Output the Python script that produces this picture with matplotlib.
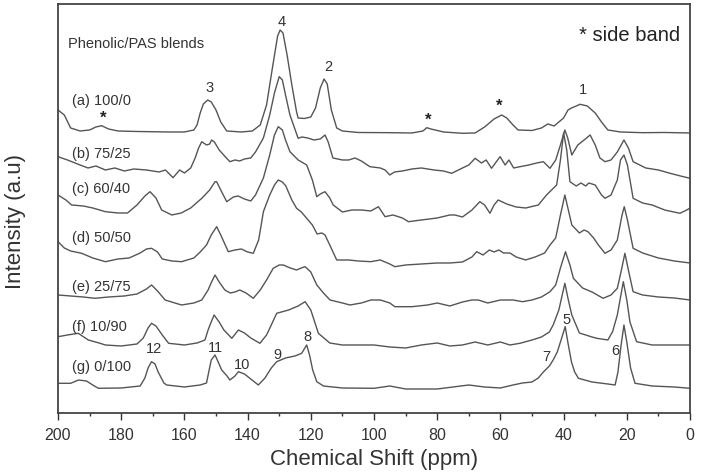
import matplotlib
matplotlib.use('Agg')
import matplotlib.pyplot as plt
from matplotlib.ticker import MultipleLocator

plt.rcParams['font.family'] = ['Liberation Sans', 'DejaVu Sans']

# Spektra: przesunięcie chemiczne [ppm] i intensywność [a.u.]
shift_a = [200, 198, 196, 193, 190, 188, 186.2, 184, 181, 175, 165, 160, 157, 156, 155, 154, 152.6, 151.5, 150,
           148.5, 146.6, 142, 138.5, 136, 134, 132, 130.5, 129.7, 128.8, 127.5, 126, 124.5, 124, 122, 120, 118.5,
           117, 115.8, 114.8, 113.5, 111.8, 110, 105, 95, 88, 84.5, 83.3, 82, 78, 72, 68, 65, 62, 59.6, 58, 56,
           54.4, 50, 47, 45, 43, 40, 38.6, 37.5, 36, 34.8, 32.5, 30, 28, 26, 22, 15, 8, 0]
int_a = [303, 298, 285, 282, 283, 286, 287.3, 284, 282, 281.5, 281, 281, 283, 288, 300, 309, 313, 311, 303,
         291, 282, 281, 282, 288, 308, 348, 377, 383, 380, 358, 328, 301, 295, 294.5, 296, 305,
         325, 334, 329, 303, 285, 282, 280.5, 280.3, 280, 282, 285.3, 284, 281, 279.7, 280, 286, 294, 298, 295, 288,
         283, 282.5, 285, 289, 287, 295, 303, 305, 307, 308.7, 307, 300, 291, 283, 281, 280.3, 280.5, 280]

shift_b = [200, 197, 193, 190.5, 188, 185, 182, 179, 176, 172, 168, 166, 163.6, 161.5, 160, 158, 156.6, 155.5,
           154.5, 153, 152, 151.4, 150.5, 149, 147, 145.6, 144, 142.5, 141, 139, 137.5, 135, 133, 131.5, 130, 129,
           128, 126.6, 124, 122.8, 121, 119, 117, 115.5, 114.5, 113, 110, 108, 106, 104, 101.3, 98, 96.5, 95, 93.5,
           91, 88, 85, 81, 78, 75.4, 72, 70, 68, 66, 64.5, 62.8, 60.1, 58.5, 57.3, 55.8, 53.8, 51, 48.5, 46.4, 44.3,
           42.5, 41, 39.6, 38.7, 37.4, 35.5, 33.5, 31.6, 30, 28.5, 26.9, 25, 23, 20.9, 19.5, 18, 14, 10, 6.3, 3, 0]
int_b = [256.3, 253, 248, 245, 247, 243, 245, 242, 244, 243, 241, 243, 235.3, 243, 240, 245, 255, 265,
         271.3, 268, 269, 273, 271, 263, 256, 251.3, 253, 252, 254, 255, 261, 275, 298, 320, 336.3, 333,
         318, 298, 274.7, 276, 275, 273, 274, 278, 271, 255, 253, 253, 255, 252, 246.3, 245, 243, 238, 241,
         242, 244, 245, 243, 242, 239.7, 245, 248, 254.7, 250, 253, 244.7, 256.3, 248, 253, 245, 246.3, 248, 250, 251.3, 244.7,
         253, 268, 283, 275, 258, 268, 273, 278, 268, 255, 251.3, 253, 261, 273, 265, 251.3, 245, 243, 239.7, 237, 234.7]

shift_c = [200, 197.5, 195.7, 192, 189, 185, 181, 178, 175, 172.5, 170.9, 169, 167.2, 164, 161, 158, 154.5, 152,
           150.3, 149.8, 148.5, 146.6, 144.5, 143, 141, 139, 137.5, 135, 133, 131.5, 130.3, 129, 128, 126.6, 124,
           121.3, 119.5, 118.1, 117, 115.5, 114, 112.9, 110, 107, 104, 101, 98.6, 96.5, 94, 91, 89.1, 85, 80, 76,
           74.4, 72, 69, 66.5, 65, 63.3, 62, 60.7, 58, 55, 52, 48, 45.4, 42.2, 41, 40, 39, 38, 36, 34.5, 33, 32, 30,
           28, 26.9, 25, 23, 22, 20.9, 19.8, 18, 15, 12, 8, 3.2, 1, 0]
int_c = [218, 213, 208, 207, 205, 201.3, 200, 200, 208, 217, 221.3, 215, 203, 198, 200, 205, 214.7, 223,
         231.3, 231.3, 223, 211.3, 216, 217, 214, 212, 218, 235, 258, 278, 286.3, 283, 273, 261.3, 253,
         248, 233, 216.3, 219, 221.3, 215, 208, 201, 203, 203, 202, 206.3, 196.3, 198, 195, 191.3, 193, 195, 198,
         198, 196, 203, 211.3, 208, 199.7, 208, 213, 209, 206, 205, 208, 218, 228, 253, 280, 263, 231.3, 227, 230, 227, 230, 228,
         218, 214.7, 218, 233, 253, 258, 248, 214.7, 210, 208, 203, 199.7, 203, 205]

shift_d = [200, 198, 196, 192.5, 189, 185, 181, 177.5, 174, 172, 170.4, 168.5, 167, 164, 160.9, 157, 155, 153,
           151.5, 149.8, 148.5, 146.1, 144, 142, 140, 138.2, 136.5, 135, 133, 131.5, 130.3, 129, 127.9, 126, 124.5,
           123, 121.3, 119.5, 118, 116.5, 115.5, 114, 111.8, 108, 105, 101, 98, 95, 93.4, 90, 85, 80, 76, 72, 69,
           67.5, 65.5, 63.5, 62, 60.5, 59, 57, 55, 52, 49, 46, 44.3, 42.5, 41, 39.6, 38.5, 37.4, 35, 33.5, 32.3,
           30.5, 29, 26.9, 25, 23, 21.5, 20.8, 19.8, 18, 15, 10, 5, 0]
int_d = [171.3, 165, 162, 159.7, 155, 151.3, 154, 155, 160, 164, 164.7, 161, 154, 152, 151.3, 155, 161, 168,
         178, 186.3, 178, 161.3, 163, 164, 161, 159.7, 173, 201.3, 218, 228, 233, 231, 227, 213, 204.7,
         201, 194.7, 188, 179, 180, 178, 168, 153, 153, 152, 151.3, 153, 149, 146.3, 148, 149, 150, 150, 151, 156,
         161.3, 158, 163, 161, 163, 160, 160, 156, 153, 156, 160, 168, 175, 198, 218, 203, 188, 180, 183, 181.3,
         175, 168, 159.7, 163, 173, 198, 206.3, 193, 164.7, 160, 155, 152, 150]

shift_e = [200, 196, 192, 188.3, 184, 179, 175, 172, 170.4, 168.5, 166.1, 163, 160.9, 157, 154.5, 152.5, 151.4,
           150.3, 149, 147.2, 145.5, 144, 142.5, 140.5, 138.2, 136, 134, 131.9, 130, 128.7, 126.5, 124.5, 123,
           121.8, 120, 118.1, 116, 113.9, 110, 107.6, 104, 101, 98, 95, 93.4, 88, 83, 80, 76, 72, 69, 67, 64, 60,
           56, 53, 50, 47, 44.3, 42.5, 41, 39.4, 38, 36.9, 34, 31, 27.5, 25, 23, 21.7, 20.6, 19.5, 18, 15, 10, 5, 0]
int_e = [118, 117, 116, 114.7, 116, 117, 119, 124, 128, 122, 113, 110, 108, 110, 113, 123, 131,
         138, 131, 123, 120, 121, 123, 120, 114.7, 123, 133, 144.7, 148, 148, 145, 143, 145,
         146.3, 141, 128, 120, 113, 110, 108, 110, 113, 113, 110, 106.3, 106.3, 108, 110, 107, 111, 113, 113, 110, 113,
         113, 111.3, 113, 116, 121.3, 128, 145, 161.3, 148, 134.7, 125, 121, 114.7, 118, 124.7, 143, 159.7, 143, 121.3, 118, 116, 115, 113]

shift_f = [200, 197, 193.6, 190.4, 187, 185, 180, 175, 173, 171.5, 170.4, 169, 167, 165, 160, 156, 153.5, 152.5,
           151.9, 150.6, 149, 147.5, 145, 142.9, 141, 139, 136.1, 134, 132.5, 130.8, 127, 124, 121.8, 120, 117.6,
           114, 110, 105, 100, 95, 90, 85, 80, 76, 72, 68, 64, 60, 57, 53.8, 50, 47, 44.5, 43.3, 41.5, 39.6, 38.5,
           37.4, 35, 31, 29.5, 26, 24.5, 23, 21.1, 20, 19, 16.9, 12, 5, 0]
int_f = [76.3, 78, 79.7, 73, 70, 68, 67, 69, 75, 85, 89.7, 87, 78, 69.7, 68, 70, 73, 83,
         88, 98, 91, 83, 74.7, 83, 80, 75, 69.7, 78, 88, 99.7, 103, 107, 111.3, 103, 79.7,
         70, 68, 68, 68, 66, 65, 68, 70, 67, 68, 71, 68, 71, 68, 69.7, 73, 76, 81, 88, 103, 129.7, 113,
         98, 80, 76, 74.7, 73, 81.3, 98, 131.3, 113, 91, 71.3, 68, 68, 68]

shift_g = [200, 196, 193.5, 191, 188.5, 187.2, 180, 174, 172.5, 171.5, 170.4, 169.3, 168.3, 166.5, 165.6, 160,
           155, 153, 152.3, 151.5, 150.3, 149.3, 148.2, 146.5, 145.6, 144, 142.9, 141, 139, 136.6, 134.5, 132.5,
           130.8, 128, 125, 122.9, 121.3, 120.4, 119.4, 118.1, 116, 110, 100, 95, 90, 85, 80, 75, 70, 65, 60, 56,
           53, 50, 48, 46.4, 44.5, 43.3, 42, 40.8, 39.5, 38.5, 37.5, 36.5, 35.3, 31, 26, 23.7, 22.8, 21.8, 20.9,
           20, 18.8, 17.4, 12, 5, 0]
int_g = [29.7, 29.7, 33, 32, 27, 24.7, 25, 27, 35, 45, 51.3, 49, 41, 30, 28, 26,
         28, 30, 41, 53, 58, 51, 43, 37, 33, 37, 41.3, 39, 34, 28, 35, 45,
         51.3, 55, 57, 59.7, 68, 58, 43, 31.3, 27, 25, 24.7, 27, 24, 24, 24, 26, 28, 26, 25, 28,
         30, 31, 35, 41, 47, 53, 61, 73, 86.3, 68, 51, 41, 34.7, 31, 29, 28, 41, 68, 88,
         71, 45, 29.7, 27, 26, 24.7]

shifts = [shift_a, shift_b, shift_c, shift_d, shift_e, shift_f, shift_g]
intensities = [int_a, int_b, int_c, int_d, int_e, int_f, int_g]
sample_labels = ['(a) 100/0', '(b) 75/25', '(c) 60/40', '(d) 50/50', '(e) 25/75', '(f) 10/90', '(g) 0/100']
label_y = [312, 259, 224, 175, 126, 86, 46]

# Numery pików i pasma boczne
peak_x = [129.1, 114.6, 152.2, 33.9, 169.6, 150.3, 141.8, 130.7, 121.2, 39.2, 45.6, 23.7]
peak_y = [391, 346, 325, 323, 64, 65, 48, 58, 76, 93, 56, 62]
peak_txt = ['4', '2', '3', '1', '12', '11', '10', '9', '8', '5', '7', '6']
star_x = [185.8, 82.9, 60.4]
star_y = [295, 293, 307]

fig = plt.figure(figsize=(7.03, 4.74), dpi=100)
ax = fig.add_axes([0.0825, 0.1287, 0.899, 0.8629])

for x, y in zip(shifts, intensities):
    ax.plot(x, y, color='#555555', lw=1.0)

for txt, yy in zip(sample_labels, label_y):
    ax.text(195.6, yy, txt, fontsize=10.5, color='#333333', va='center', ha='left')

for xx, yy, t in zip(peak_x, peak_y, peak_txt):
    ax.text(xx, yy, t, fontsize=10.5, color='#333333', ha='center', va='center')
for xx, yy in zip(star_x, star_y):
    ax.text(xx, yy, '*', fontsize=12, color='#222222', ha='center', va='center', fontweight='bold')

ax.text(196.8, 369, 'Phenolic/PAS blends', fontsize=10.5, color='#333333', ha='left', va='center')
ax.text(3.2, 377, '* side band', fontsize=14.5, color='#222222', ha='right', va='center')

ax.set_xlim(200, 0)
ax.set_ylim(0, 409)
ax.set_yticks([])
ax.xaxis.set_major_locator(MultipleLocator(20))
ax.xaxis.set_minor_locator(MultipleLocator(10))
ax.tick_params(axis='x', which='major', direction='out', length=5, width=1, labelsize=11.5, colors='#333333', pad=6)
ax.tick_params(axis='x', which='minor', direction='out', length=2.5, width=1, colors='#333333')
for s in ax.spines.values():
    s.set_color('#444444')
    s.set_linewidth(1.3)

ax.set_xlabel('Chemical Shift (ppm)', fontsize=16, color='#333333', labelpad=4)
ax.set_ylabel('Intensity (a.u)', fontsize=16, color='#333333')
ax.yaxis.set_label_coords(-0.05, 0.467)

fig.savefig('out.png', dpi=100)
